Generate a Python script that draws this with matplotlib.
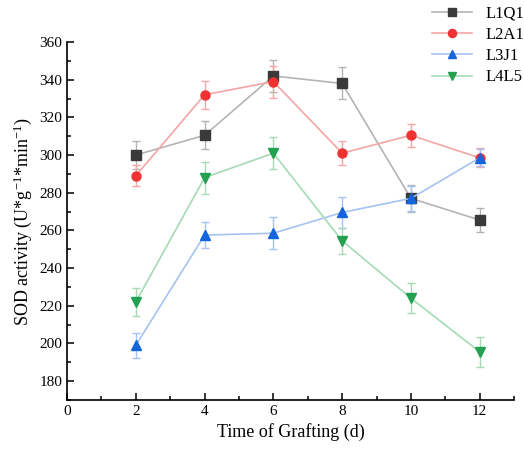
import matplotlib
matplotlib.use('Agg')
import matplotlib.pyplot as plt
from matplotlib.ticker import MultipleLocator

days = [2, 4, 6, 8, 10, 12]

l1q1 = [300, 310.5, 342, 338, 277, 265.5]
l1q1_err = [7.5, 7.5, 8.5, 8.5, 7, 6.5]
l2a1 = [289, 332, 339, 301, 310.5, 298.5]
l2a1_err = [5.5, 7.5, 8.5, 6.5, 6, 5]
l3j1 = [199, 257.5, 258.5, 269.5, 277, 298.5]
l3j1_err = [6.5, 7, 8.5, 8, 6.5, 4.5]
l4l5 = [222, 288, 301, 254.5, 224, 195.5]
l4l5_err = [7.5, 8.5, 8.5, 7, 8, 8]

series = [
    ('L1Q1', l1q1, l1q1_err, 's', '#3a3a3a', '#b4b4b4'),
    ('L2A1', l2a1, l2a1_err, 'o', '#f03232', '#f5a5a5'),
    ('L3J1', l3j1, l3j1_err, '^', '#1464dc', '#a5c3f0'),
    ('L4L5', l4l5, l4l5_err, 'v', '#23a050', '#a5dab5'),
]

plt.rcParams['font.family'] = 'serif'
plt.rcParams['font.serif'] = ['Liberation Serif', 'DejaVu Serif']
plt.rcParams['mathtext.fontset'] = 'stix'

fig = plt.figure(figsize=(5.24, 4.57), dpi=100)
ax = fig.add_axes([0.128, 0.125, 0.853, 0.783])

for name, vals, err, mk, mcol, lcol in series:
    ax.errorbar(days, vals, yerr=err, color=lcol, linewidth=1.2,
                elinewidth=1.0, capsize=3, capthick=1.0,
                marker=mk, markersize=6.5, markerfacecolor=mcol,
                markeredgecolor=mcol, label=name, zorder=3)

ax.set_xlim(0, 13)
ax.set_ylim(170, 360)
ax.xaxis.set_major_locator(MultipleLocator(2))
ax.xaxis.set_minor_locator(MultipleLocator(1))
ax.yaxis.set_major_locator(MultipleLocator(20))
ax.yaxis.set_minor_locator(MultipleLocator(10))
ax.set_yticks(range(180, 361, 20))

ax.spines['top'].set_visible(False)
ax.spines['right'].set_visible(False)
for s in ['left', 'bottom']:
    ax.spines[s].set_linewidth(1.2)
ax.tick_params(which='both', direction='in', labelsize=11, width=1.1)
ax.tick_params(which='major', length=5)
ax.tick_params(which='minor', length=3)

ax.set_xlabel('Time of Grafting (d)', fontsize=13)
ax.set_ylabel(r'SOD activity (U*g$^{\mathregular{-1}}$*min$^{\mathregular{-1}}$)', fontsize=13)

handles, labels = ax.get_legend_handles_labels()
handles = [h[0] for h in handles]
fig.legend(handles, labels, loc='upper right', bbox_to_anchor=(1.02, 1.01),
           frameon=False, fontsize=12, handlelength=2.4, labelspacing=0.32,
           borderaxespad=0.2, markerscale=0.9)

fig.savefig('out.png', dpi=100)
